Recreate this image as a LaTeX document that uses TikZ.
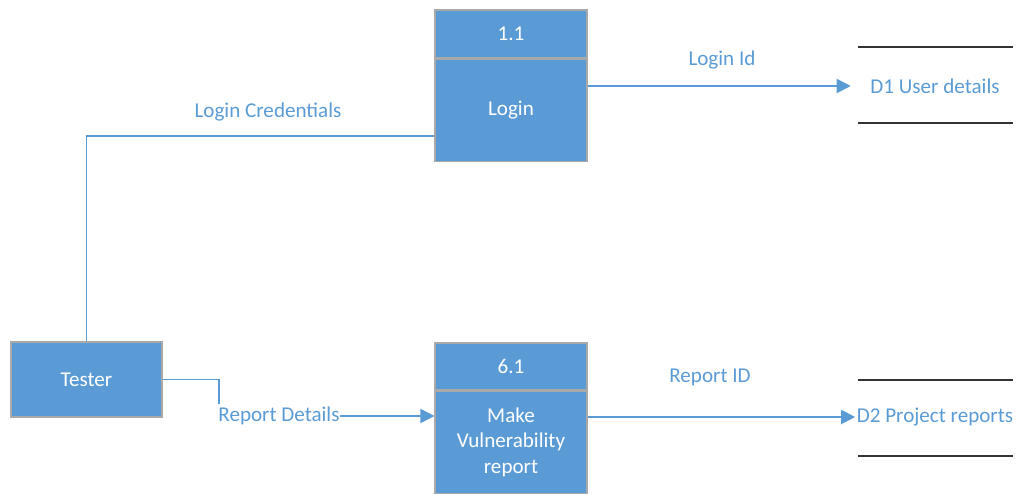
\documentclass[tikz,border=0pt]{standalone}
\usepackage{fontspec}
\setmainfont{Carlito}
\usetikzlibrary{arrows.meta,positioning,calc}
\definecolor{dfdblue}{HTML}{5B9BD5}
\definecolor{dfdgray}{HTML}{A9A9A9}
\tikzset{>={Triangle[length=10pt,width=10pt]},every node/.style={font=\fontsize{15}{18}\selectfont},
 proc/.style={draw=dfdgray,line width=.8pt,fill=dfdblue,text=white,minimum width=3.8cm,align=center,inner sep=0pt},
 lbl/.style={text=dfdblue,inner sep=1pt},
 flow/.style={draw=dfdblue,line width=1.4pt,->},edge/.style={draw=dfdblue,line width=1.4pt},
 store/.style={draw=black!80,line width=1.4pt}}
\begin{document}
\begin{tikzpicture}[x=0.025cm,y=-0.025cm]
\useasboundingbox (0,0) rectangle (1024,494);
% processes
\node[proc,minimum height=1.2cm] (h1) at (511,34) {1.1};
\node[proc,minimum height=2.55cm,below=0pt of h1] (p1) {Login};
\node[proc,minimum height=1.175cm] (h2) at (511,366.5) {6.1};
\node[proc,minimum height=2.55cm,below=0pt of h2] (p2) {Make\\Vulnerability\\report};
\node[proc,minimum width=3.775cm,minimum height=1.875cm] (tester) at (86.5,379.5) {Tester};
% data stores
\node[lbl] (d1) at (935,86) {D1 User details};
\node[lbl] (d2) at (935,417) {D2 Project reports};
\draw[store] (858,47)--(1013,47);\draw[store] (858,123)--(1013,123);
\draw[store] (858,380)--(1013,380);\draw[store] (858,456)--(1013,456);
% flows
\draw[edge] (tester.north) |- ([yshift=-0.65cm]p1.west);\node[lbl] (cred) at (268,112){Login Credentials};
\draw[flow,shorten >=0.45cm] (p1.east|-d1.west) -- (d1.west);\node[lbl] (lid) at (722,60){Login Id};
\node[lbl,inner sep=0pt] (rd) at (279,416){Report Details};
\draw[edge] (tester.east) -| ($(rd.north west)+(1,-3)$);\draw[flow] (rd.east) -- (rd.east-|p2.west);
\draw[flow] (p2.east|-d2.west) -- (d2.west);\node[lbl] (rid) at (710,377){Report ID};
\end{tikzpicture}
\end{document}
